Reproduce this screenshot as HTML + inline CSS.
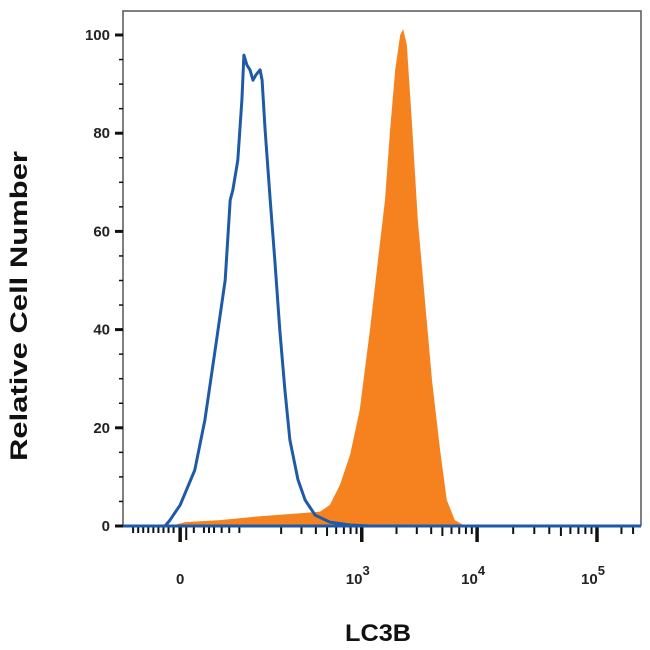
<!DOCTYPE html>
<html><head><meta charset="utf-8"><style>
body{margin:0;background:#fff;}
svg{display:block;font-family:"Liberation Sans",sans-serif;}
</style></head><body>
<svg id="c" width="650" height="650">
<g id="plot"></g>
</svg>
<script>
const blueCh=[0,83,93,113,142,162,182,202,212,217,227,235,239,245,251,257,263,271,275,281,291,300,310,320,330,346,360,380,409,449,488,1024];
const blueVal=[0,0,1.2,4.3,11.4,21.6,35.8,50.1,66.4,68.4,74.5,86.8,95.9,93.9,92.9,90.8,91.9,92.9,90.8,80.7,66.4,54.2,39.9,27.7,17.5,9.4,5.3,2.2,0.8,0.2,0,0];
const orangeCh=[93,123,192,271,350,389,409,429,449,468,488,504,518,528,538,548,554,561,571,583,597,611,627,640,656,676];
const orangeVal=[0,0.8,1.2,2.0,2.6,2.9,4.3,8.4,14.5,23.6,39.9,54.2,66.4,80.7,92.9,100,101.2,98,82.5,62.1,45.8,29.5,15.3,5.3,1.2,0];
const yTicks=[0,20,40,60,80,100];
const xTickCh=[113,472,700,937];
const xTickLabels=["0","10","10","10"];
const xTickExp=["","3","4","5"];

const X0=123,X1=641,Y0=526,YTOP=11;
const xs=c=>X0+c/1024*(X1-X0);
const ys=v=>Y0-v*4.91;
const NS="http://www.w3.org/2000/svg";
const svg=document.getElementById('c');
function mk(t,a,p){const e=document.createElementNS(NS,t);for(const k in a)e.setAttribute(k,a[k]);(p||svg).appendChild(e);return e;}

const fr=mk('path',{d:`M${X0},${Y0}V${YTOP}H${X1}V${Y0}`,fill:'none',stroke:'#555','stroke-width':1.5});



let d=`M${xs(orangeCh[0])},${ys(0)}`;
orangeCh.forEach((c,i)=>{d+=`L${xs(c).toFixed(1)},${ys(orangeVal[i]).toFixed(1)}`;});
d+=`L${xs(orangeCh[orangeCh.length-1])},${ys(0)}Z`;
const op=mk('path',{d:d,fill:'#f5821f',stroke:'none'});



let bd='';
blueCh.forEach((c,i)=>{bd+=(i?'L':'M')+xs(c).toFixed(1)+','+ys(blueVal[i]).toFixed(1);});
const bp=mk('path',{d:bd,fill:'none',stroke:'#1f5aa8','stroke-width':3,'stroke-linejoin':'round'});



yTicks.forEach(v=>{
  const t=mk('line',{x1:X0-8,x2:X0,y1:ys(v),y2:ys(v),stroke:'#111','stroke-width':3});
  
  
  const l=mk('text',{x:X0-13,y:ys(v)+5,'text-anchor':'end','font-size':15,'font-weight':'bold',fill:'#222'});
  l.textContent=v;
  
  
});
for(let v=5;v<100;v+=5){if(v%20)mk('line',{x1:X0-4,x2:X0,y1:ys(v),y2:ys(v),stroke:'#111','stroke-width':1.5});}

const mult=[2,3,4,5,6,7,8,9];
xTickCh.forEach((c,i)=>{
  const t=mk('line',{x1:xs(c),x2:xs(c),y1:Y0,y2:Y0+16,stroke:'#111','stroke-width':3.5});
  
  
  const l=mk('text',{x:xs(c)+(i?-4:0),y:584,'text-anchor':'middle','font-size':15,'font-weight':'bold',fill:'#222'});
  l.textContent=xTickLabels[i];
  if(xTickExp[i]){const s=mk('tspan',{dy:-9,'font-size':13},l);s.textContent=xTickExp[i];}
  
  
  if(i>0){
    const prev=xTickCh[i-1], span=c-(i===1?c-228:prev);
    mult.forEach(m=>{const cc=c-span+span*Math.log10(m);
      mk('line',{x1:xs(cc),x2:xs(cc),y1:Y0,y2:Y0+(m===5?10:8),stroke:'#111','stroke-width':2});});
  }
});
[1.6,2,3,4].forEach(m=>{const cc=937+237*Math.log10(m);mk('line',{x1:xs(cc),x2:xs(cc),y1:Y0,y2:Y0+8,stroke:'#111','stroke-width':2});});
[20,30,40,50,60,70,80,90,100,125,140,160,170,180,195,210,230].forEach(cc=>{mk('line',{x1:xs(cc),x2:xs(cc),y1:Y0,y2:Y0+(cc>100&&cc<130?14:7),stroke:'#111','stroke-width':2});});
const xa=mk('line',{x1:X0,x2:X1,y1:Y0,y2:Y0,stroke:'#1f5aa8','stroke-width':3});



const yt=mk('text',{x:0,y:0,transform:'translate(27,306) rotate(-90)','text-anchor':'middle','font-size':24,'font-weight':'bold',fill:'#111',textLength:310,lengthAdjust:'spacingAndGlyphs'});
yt.textContent='Relative Cell Number';


const xt=mk('text',{x:378,y:641,'text-anchor':'middle','font-size':24,'font-weight':'bold',fill:'#111',textLength:66,lengthAdjust:'spacingAndGlyphs'});
xt.textContent='LC3B';


</script>
</body></html>
